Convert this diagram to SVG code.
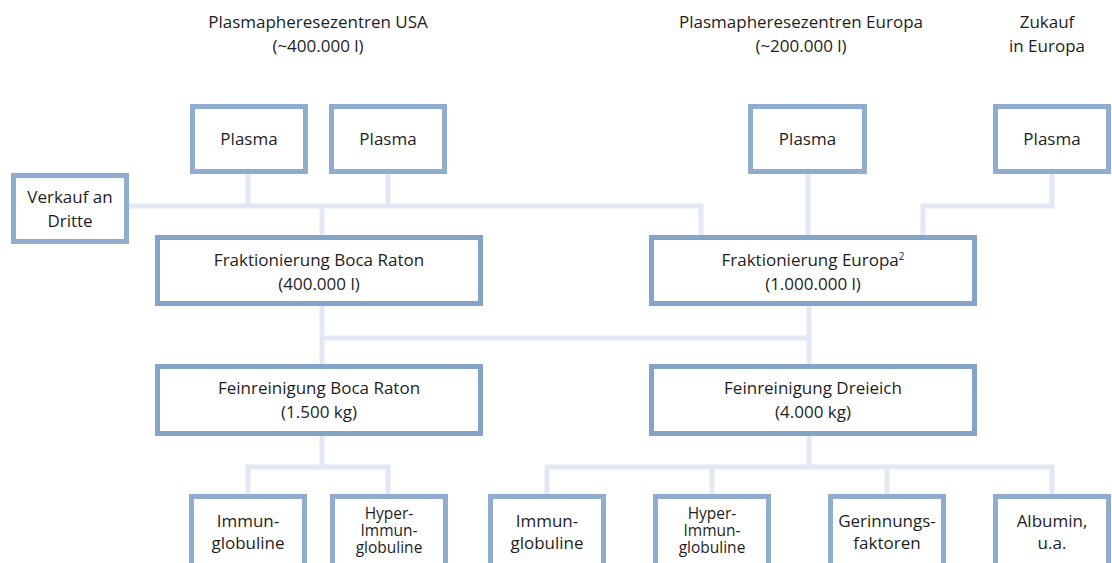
<svg xmlns="http://www.w3.org/2000/svg" width="1112" height="563" viewBox="0 0 1112 563">
<style>
  text { font-family: "Open Sans", "Liberation Sans", sans-serif; font-size: 17px; fill: #1e1e1e; text-anchor: middle; }
  .tight { font-size: 15.5px; }
  .box { fill: #ffffff; stroke: #90adcf; stroke-width: 5; }
  .big { fill: #ffffff; stroke: #84a3c9; stroke-width: 5; }
  .con { fill: none; stroke: #e2e9f3; stroke-width: 5; }
</style>
<rect width="1112" height="563" fill="#ffffff"/>
<g id="headers">
  <text x="318" y="28">Plasmapheresezentren USA</text>
  <text x="318" y="52">(~400.000 l)</text>
  <text x="801" y="28">Plasmapheresezentren Europa</text>
  <text x="801" y="52">(~200.000 l)</text>
  <text x="1047" y="28">Zukauf</text>
  <text x="1047" y="52">in Europa</text>
</g>
<g id="connectors">
  <path class="con" d="M248 174 V206"/>
  <path class="con" d="M388 174 V206"/>
  <path class="con" d="M129 206 H701 V235"/>
  <path class="con" d="M322 206 V235"/>
  <path class="con" d="M808 174 V235"/>
  <path class="con" d="M1052 174 V206 H923 V235"/>
  <path class="con" d="M322 306 V364"/>
  <path class="con" d="M809 306 V364"/>
  <path class="con" d="M322 338 H809"/>
  <path class="con" d="M322 436 V467"/>
  <path class="con" d="M248 494 V467 H388 V494"/>
  <path class="con" d="M809 436 V467"/>
  <path class="con" d="M547 494 V467 H1052 V494"/>
  <path class="con" d="M712 467 V494"/>
  <path class="con" d="M887 467 V494"/>
</g>
<g id="plasma-usa-1">
  <rect class="box" x="192.5" y="106.5" width="113" height="65"/>
  <text x="249" y="145">Plasma</text>
</g>
<g id="plasma-usa-2">
  <rect class="box" x="331.5" y="106.5" width="113" height="65"/>
  <text x="388" y="145">Plasma</text>
</g>
<g id="verkauf">
  <rect class="box" x="13.5" y="175.5" width="113" height="66"/>
  <text x="70" y="203">Verkauf an</text>
  <text x="70" y="227">Dritte</text>
</g>
<g id="plasma-europa">
  <rect class="box" x="750.5" y="106.5" width="114" height="65"/>
  <text x="807.5" y="145">Plasma</text>
</g>
<g id="plasma-zukauf">
  <rect class="box" x="995.5" y="106.5" width="113" height="65"/>
  <text x="1052" y="145">Plasma</text>
</g>
<g id="fraktionierung-boca">
  <rect class="big" x="157.5" y="237.5" width="323" height="66"/>
  <text x="319" y="266">Fraktionierung Boca Raton</text>
  <text x="319" y="290">(400.000 l)</text>
</g>
<g id="fraktionierung-europa">
  <rect class="big" x="651.5" y="237.5" width="323" height="66"/>
  <text x="813" y="266">Fraktionierung Europa<tspan font-size="10" dy="-6">2</tspan></text>
  <text x="813" y="290">(1.000.000 l)</text>
</g>
<g id="feinreinigung-boca">
  <rect class="big" x="157.5" y="366.5" width="323" height="67"/>
  <text x="319" y="394">Feinreinigung Boca Raton</text>
  <text x="319" y="418">(1.500 kg)</text>
</g>
<g id="feinreinigung-dreieich">
  <rect class="big" x="651.5" y="366.5" width="323" height="67"/>
  <text x="813" y="394">Feinreinigung Dreieich</text>
  <text x="813" y="418">(4.000 kg)</text>
</g>
<g id="immun-boca">
  <rect class="box" x="191.5" y="496.5" width="113" height="80"/>
  <text x="248" y="527">Immun-</text>
  <text x="248" y="549">globuline</text>
</g>
<g id="hyper-boca">
  <rect class="box" x="332.5" y="496.5" width="113" height="80"/>
  <text class="tight" x="389" y="519">Hyper-</text>
  <text class="tight" x="389" y="536">Immun-</text>
  <text class="tight" x="389" y="553">globuline</text>
</g>
<g id="immun-dreieich">
  <rect class="box" x="490.5" y="496.5" width="113" height="80"/>
  <text x="547" y="527">Immun-</text>
  <text x="547" y="549">globuline</text>
</g>
<g id="hyper-dreieich">
  <rect class="box" x="655.5" y="496.5" width="113" height="80"/>
  <text class="tight" x="712" y="519">Hyper-</text>
  <text class="tight" x="712" y="536">Immun-</text>
  <text class="tight" x="712" y="553">globuline</text>
</g>
<g id="gerinnung">
  <rect class="box" x="830.5" y="496.5" width="113" height="80"/>
  <text x="887" y="527">Gerinnungs-</text>
  <text x="887" y="549">faktoren</text>
</g>
<g id="albumin">
  <rect class="box" x="995.5" y="496.5" width="113" height="80"/>
  <text x="1052" y="527">Albumin,</text>
  <text x="1052" y="549">u.a.</text>
</g>
</svg>
